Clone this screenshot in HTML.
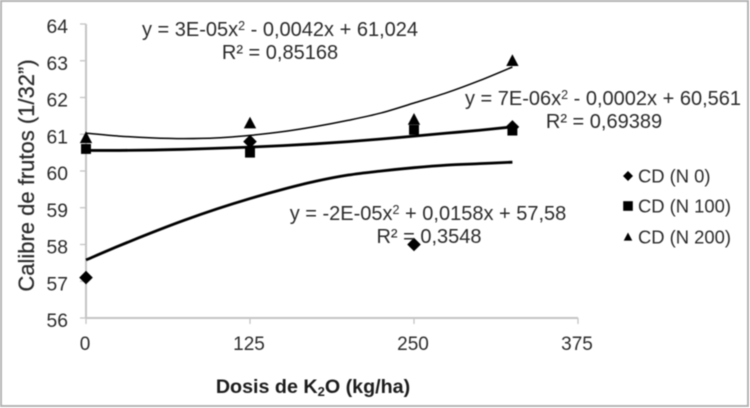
<!DOCTYPE html>
<html lang="es">
<head>
<meta charset="utf-8">
<title>Calibre de frutos</title>
<style>
html,body{margin:0;padding:0;background:#fff;width:750px;height:408px;overflow:hidden}
svg{display:block;filter:blur(0.4px)}
text{font-family:"Liberation Sans",sans-serif;fill:#2b2b2b}
</style>
</head>
<body>
<svg id="chart" xmlns="http://www.w3.org/2000/svg" width="750" height="408" viewBox="0 0 750 408">
  <rect x="1" y="1" width="747" height="405" fill="#fff" stroke="#b4b4b4" stroke-width="2"/>
  <g id="axes"></g>
  <g id="trends"></g>
  <g id="marks"></g>
  <text transform="translate(34,175.5) rotate(-90)" text-anchor="middle" font-size="22" style="stroke:#2b2b2b;stroke-width:0.25">Calibre de frutos (1/32”)</text>
  <text x="313" y="393" text-anchor="middle" font-size="19.7" font-weight="bold" style="fill:#1c1c1c">Dosis de K<tspan font-size="13" dy="3">2</tspan><tspan dy="-3">O (kg/ha)</tspan></text>
  <g font-size="20">
    <text x="280" y="36" text-anchor="middle">y = 3E-05x<tspan font-size="12.5" dy="-6">2</tspan><tspan dy="6"> - 0,0042x + 61,024</tspan></text>
    <text x="280" y="59" text-anchor="middle">R² = 0,85168</text>
  </g>
  <g font-size="20">
    <text x="603" y="105" text-anchor="middle">y = 7E-06x<tspan font-size="12.5" dy="-6">2</tspan><tspan dy="6"> - 0,0002x + 60,561</tspan></text>
    <text x="604" y="128" text-anchor="middle">R² = 0,69389</text>
  </g>
  <g font-size="20">
    <text x="428" y="220" text-anchor="middle">y = -2E-05x<tspan font-size="12.5" dy="-6">2</tspan><tspan dy="6"> + 0,0158x + 57,58</tspan></text>
    <text x="429" y="243" text-anchor="middle">R² = 0,3548</text>
  </g>
  <g id="legend"></g>
</svg>
<script>
const xTicks = [0, 125, 250, 375];
const yTicks = [56, 57, 58, 59, 60, 61, 62, 63, 64];
const doses = [0, 125, 250, 325];
const seriesN0 = [57.1, 60.8, 58.0, 61.2];
const seriesN100 = [60.6, 60.5, 61.12, 61.1];
const seriesN200 = [60.9, 61.3, 61.4, 63.0];
const trendDoses = [0, 25, 50, 75, 100, 125, 150, 175, 200, 225, 250, 275, 300, 325];
const trendN0 = [57.58, 57.96, 58.32, 58.66, 58.97, 59.25, 59.5, 59.72, 59.89, 60.0, 60.09, 60.16, 60.2, 60.24];
const trendN100 = [60.56, 60.56, 60.57, 60.59, 60.62, 60.65, 60.69, 60.74, 60.8, 60.87, 60.95, 61.03, 61.11, 61.2];
const trendN200 = [61.03, 60.95, 60.9, 60.88, 60.9, 60.97, 61.07, 61.21, 61.38, 61.58, 61.85, 62.13, 62.46, 62.83];
const legendLabels = ['CD (N 0)', 'CD (N 100)', 'CD (N 200)'];

const NS = 'http://www.w3.org/2000/svg';
const sx = v => 86 + (v / 375) * 492;
const sy = v => 318 - (v - 56) * 36.75;

function make(parent, tag, attrs) {
  const el = document.createElementNS(NS, tag);
  for (const k in attrs) el.setAttribute(k, attrs[k]);
  parent.appendChild(el);
  return el;
}
function marker(parent, kind, x, y, r) {
  if (kind === 'diamond') {
    return make(parent, 'polygon', {points: `${x},${y-r} ${x+r},${y} ${x},${y+r} ${x-r},${y}`, fill: '#000'});
  }
  if (kind === 'square') {
    return make(parent, 'rect', {x: x-r*0.8, y: y-r*0.8, width: r*1.6, height: r*1.6, fill: '#000'});
  }
  return make(parent, 'polygon', {points: `${x},${y-r} ${x+r*0.95},${y+r*0.8} ${x-r*0.95},${y+r*0.8}`, fill: '#000'});
}
function smoothPath(xs, ys) {
  const p = xs.map((x, i) => [sx(x), sy(ys[i])]);
  let d = `M${p[0][0]},${p[0][1]}`;
  for (let i = 0; i < p.length - 1; i++) {
    const a = p[Math.max(i-1, 0)], b = p[i], c = p[i+1], e = p[Math.min(i+2, p.length-1)];
    d += ` C${b[0]+(c[0]-a[0])/6},${b[1]+(c[1]-a[1])/6} ${c[0]-(e[0]-b[0])/6},${c[1]-(e[1]-b[1])/6} ${c[0]},${c[1]}`;
  }
  return d;
}

const axes = document.getElementById('axes');
const yAxisLine = make(axes, 'line', {x1: sx(0), y1: sy(64), x2: sx(0), y2: sy(56), stroke: '#c4c4c4', 'stroke-width': 2});


const xAxisLine = make(axes, 'line', {x1: sx(0), y1: sy(56), x2: sx(375), y2: sy(56), stroke: '#c4c4c4', 'stroke-width': 2});



yTicks.forEach(t => {
  const tick = make(axes, 'line', {x1: sx(0)-6, y1: sy(t), x2: sx(0), y2: sy(t), stroke: '#c4c4c4', 'stroke-width': 1.3});
  
  
  const label = make(axes, 'text', {x: 68, y: sy(t) + 9, 'text-anchor': 'end', 'font-size': 19.3});
  
  
  label.textContent = t;
});
xTicks.forEach(t => {
  const tick = make(axes, 'line', {x1: sx(t), y1: sy(56), x2: sx(t), y2: sy(56)+6, stroke: '#c4c4c4', 'stroke-width': 1.3});
  
  
  const label = make(axes, 'text', {x: sx(t) - 1, y: 350, 'text-anchor': 'middle', 'font-size': 19});
  
  
  label.textContent = t;
});

const trends = document.getElementById('trends');
const trendN0Line = make(trends, 'path', {d: smoothPath(trendDoses, trendN0), fill: 'none', stroke: '#000', 'stroke-width': 2.8});


const trendN100Line = make(trends, 'path', {d: smoothPath(trendDoses, trendN100), fill: 'none', stroke: '#000', 'stroke-width': 2.8});


const trendN200Line = make(trends, 'path', {d: smoothPath(trendDoses, trendN200), fill: 'none', stroke: '#000', 'stroke-width': 1.5});



const marks = document.getElementById('marks');
doses.forEach((d, i) => {
  const m200 = marker(marks, 'triangle', sx(d), sy(seriesN200[i]), 6.5);
  
  
  const m100 = marker(marks, 'square', sx(d), sy(seriesN100[i]), 6.2);
  
  
  const m0 = marker(marks, 'diamond', sx(d), sy(seriesN0[i]), 6.8);
  
  
});

const legend = document.getElementById('legend');
const legendKinds = ['diamond', 'square', 'triangle'];
const legendSizes = [5, 6, 4.5];
const legendRows = [176, 206, 237];
legendLabels.forEach((name, i) => {
  const key = marker(legend, legendKinds[i], 628, legendRows[i], legendSizes[i]);
  
  
  const label = make(legend, 'text', {x: 638, y: legendRows[i] + 6.5, 'font-size': 18.4});
  
  
  label.textContent = name;
});
</script>
</body>
</html>
